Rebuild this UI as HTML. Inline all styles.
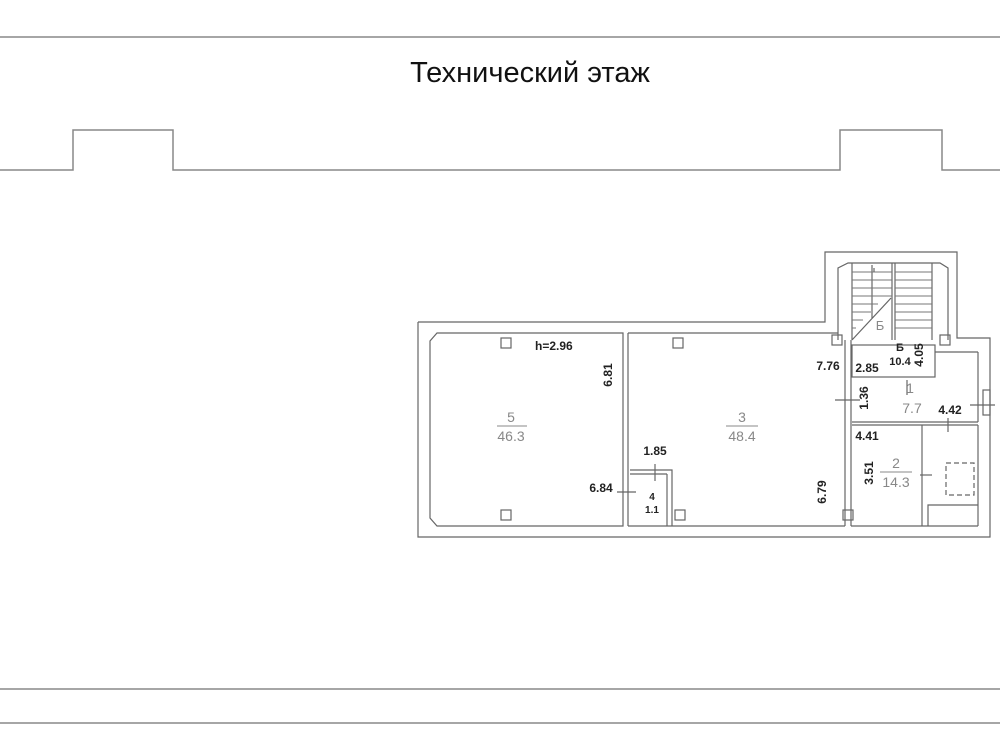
<!DOCTYPE html>
<html><head><meta charset="utf-8"><style>html,body{margin:0;padding:0;background:#fff}svg{display:block}</style></head>
<body>
<svg width="1000" height="750" viewBox="0 0 1000 750" xmlns="http://www.w3.org/2000/svg" font-family="Liberation Sans, sans-serif">
<g fill="none" stroke="#888" stroke-width="1.5">
<line x1="0" y1="37" x2="1000" y2="37"/>
<polyline points="0,170 73,170 73,130 173,130 173,170 840,170 840,130 942,130 942,170 1000,170"/>
<line x1="0" y1="689" x2="1000" y2="689"/>
<line x1="0" y1="723" x2="1000" y2="723"/>
</g>
<text x="530" y="82" font-size="29" text-anchor="middle" fill="#111">Технический этаж</text>
<g fill="none" stroke="#666" stroke-width="1.2">
<polyline points="418,322 825,322 825,252 957,252 957,338 990,338 990,537 418,537 418,322"/>
<polygon points="437,333 623,333 623,526 437,526 430,518 430,341"/>
<line x1="628" y1="333" x2="628" y2="526"/>
<polyline points="628,333 838,333"/>
<line x1="628" y1="526" x2="845" y2="526"/>
<line x1="845" y1="340" x2="845" y2="526"/>
<line x1="851" y1="340" x2="851" y2="526"/>
<polyline points="630,470 672,470 672,526"/>
<polyline points="630,474 667,474"/>
<line x1="667" y1="474" x2="667" y2="526"/>
<rect x="675" y="510" width="10" height="10"/>
<polyline points="838,340 838,268 848,263 940,263 948,268 948,340"/>
<line x1="852" y1="263" x2="852" y2="340"/>
<line x1="892" y1="263" x2="892" y2="340"/>
<line x1="895" y1="263" x2="895" y2="340"/>
<line x1="932" y1="263" x2="932" y2="340"/>
<line x1="852" y1="340" x2="891" y2="298"/>
<line x1="872" y1="265" x2="872" y2="318"/>
<path d="M852,272H892M852,280H892M852,288H892M852,296H892M852,304H878M852,312H871M852,320H863M852,328H856M895,272H932M895,280H932M895,288H932M895,296H932M895,304H932M895,312H932M895,320H932M895,328H932" stroke="#777" stroke-width="1"/>
<rect x="832" y="335" width="10" height="10"/>
<rect x="940" y="335" width="10" height="10"/>
<rect x="852" y="345" width="83" height="32"/>
<line x1="935" y1="352" x2="978" y2="352"/>
<line x1="978" y1="352" x2="978" y2="422"/>
<line x1="852" y1="422" x2="978" y2="422"/>
<line x1="852" y1="425" x2="978" y2="425"/>
<line x1="922" y1="425" x2="922" y2="526"/>
<line x1="851" y1="526" x2="978" y2="526"/>
<line x1="978" y1="425" x2="978" y2="526"/>
<polyline points="928,526 928,505 978,505"/>
<rect x="983" y="390" width="7" height="25"/>
<rect x="946" y="463" width="28" height="32" stroke-dasharray="5,3"/>
<rect x="843" y="510" width="10" height="10"/>
<rect x="501" y="338" width="10" height="10"/>
<rect x="501" y="510" width="10" height="10"/>
<rect x="673" y="338" width="10" height="10"/>
<line x1="617" y1="492" x2="636" y2="492"/>
<line x1="655" y1="464" x2="655" y2="481"/>
<line x1="907" y1="380" x2="907" y2="395"/>
<line x1="835" y1="400" x2="860" y2="400"/>
<line x1="970" y1="405" x2="995" y2="405"/>
<line x1="948" y1="418" x2="948" y2="432"/>
<line x1="920" y1="475" x2="932" y2="475"/>
<line x1="874" y1="272" x2="874" y2="268"/>
</g>
<g font-size="12" font-weight="bold" fill="#222">
<text x="535" y="350">h=2.96</text>
<text x="612" y="375" transform="rotate(-90 612 375)" text-anchor="middle">6.81</text>
<text x="655" y="455" text-anchor="middle">1.85</text>
<text x="601" y="492" text-anchor="middle">6.84</text>
<text x="652" y="500" font-size="10" text-anchor="middle">4</text>
<text x="652" y="513" font-size="10" text-anchor="middle">1.1</text>
<text x="828" y="370" text-anchor="middle">7.76</text>
<text x="867" y="372" text-anchor="middle">2.85</text>
<text x="900" y="351" font-size="11" text-anchor="middle">Б</text>
<text x="900" y="365" font-size="11" text-anchor="middle">10.4</text>
<text x="923" y="355" transform="rotate(-90 923 355)" text-anchor="middle">4.05</text>
<text x="868" y="398" transform="rotate(-90 868 398)" text-anchor="middle">1.36</text>
<text x="950" y="414" text-anchor="middle">4.42</text>
<text x="867" y="440" text-anchor="middle">4.41</text>
<text x="873" y="473" transform="rotate(-90 873 473)" text-anchor="middle">3.51</text>
<text x="826" y="492" transform="rotate(-90 826 492)" text-anchor="middle">6.79</text>
</g>
<g font-size="14" fill="#888" text-anchor="middle">
<text x="511" y="422">5</text>
<line x1="497" y1="426" x2="527" y2="426" stroke="#888"/>
<text x="511" y="441">46.3</text>
<text x="742" y="422">3</text>
<line x1="726" y1="426" x2="758" y2="426" stroke="#888"/>
<text x="742" y="441">48.4</text>
<text x="910" y="393">1</text>
<text x="912" y="413">7.7</text>
<text x="896" y="468">2</text>
<line x1="880" y1="472" x2="912" y2="472" stroke="#888"/>
<text x="896" y="487">14.3</text>
<text x="880" y="330" font-size="13">Б</text>
</g>
</svg>
</body></html>
